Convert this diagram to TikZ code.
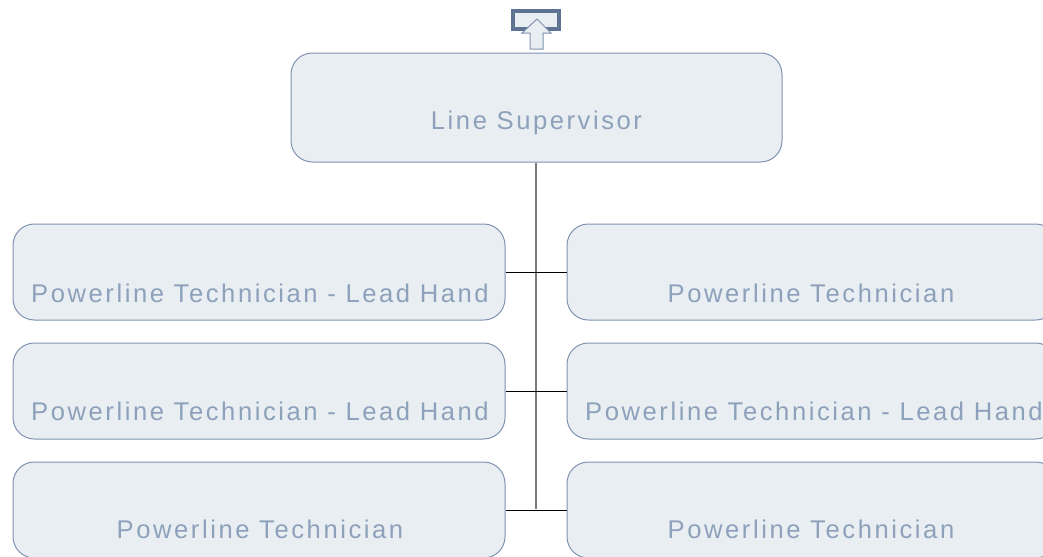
\documentclass[tikz,border=0pt]{standalone}
\usepackage{fontspec}
\setmainfont{Liberation Sans}[LetterSpace=10]
\definecolor{boxfill}{HTML}{E9EEF2}
\definecolor{boxdraw}{HTML}{7F93B0}
\definecolor{txt}{HTML}{8DA1BB}
\definecolor{icondraw}{HTML}{5D7391}
\definecolor{trunk}{HTML}{7A7A7A}
\begin{document}
\begin{tikzpicture}[x=0.75pt,y=-0.75pt,
  box/.style={draw=boxdraw,fill=boxfill,line width=0.75pt,rounded corners=16pt,minimum height=96*0.75pt,minimum width=492*0.75pt,inner sep=0pt},
  lbl/.style={anchor=base,text=txt,font=\fontsize{19.2pt}{23pt}\selectfont,inner sep=0pt},
  link/.style={black,line width=0.75pt}]
\useasboundingbox (0,0) rectangle (1043,557);
\begin{scope}
\clip (0,0) rectangle (1043,557);
% top icon
\draw[icondraw,fill=boxfill,line width=2.4pt] (513,11) rectangle (559,29);
\draw[boxdraw,fill=boxfill,line width=0.75pt] (537,19) -- (551,33) -- (543,33) -- (543,49) -- (530,49) -- (530,33) -- (522,33) -- cycle;
% boxes
\node[box,minimum height=109*0.75pt,minimum width=491*0.75pt] (sup) at (536.5,107.5) {};
\node[box] (l1) at (259,272) {};
\node[box] (l2) at (259,391) {};
\node[box] (l3) at (259,510) {};
\node[box,minimum width=490*0.75pt] (r1) at (812,272) {};
\node[box,minimum width=490*0.75pt] (r2) at (812,391) {};
\node[box,minimum width=490*0.75pt] (r3) at (812,510) {};
% labels
\node[lbl] (tsup) at (536.5,129.5) {Line Supervisor};
\node[lbl] (tl1) at (260,302.5) {Powerline Technician - Lead Hand};
\node[lbl] (tr1) at (811,302.5) {Powerline Technician};
\node[lbl] (tl2) at (260,420.5) {Powerline Technician - Lead Hand};
\node[lbl] (tr2) at (814,420.5) {Powerline Technician - Lead Hand};
\node[lbl] (tl3) at (260,538.5) {Powerline Technician};
\node[lbl] (tr3) at (811,538.5) {Powerline Technician};
% connectors
\coordinate (bot) at (536,509);
\draw[trunk,line width=1.1pt] (sup.south -| bot) -- (bot);
\draw[link] (l1.east) -- (r1.west);
\draw[link] (l2.east) -- (r2.west);
\draw[link] (l3.east) -- (r3.west);
\end{scope}
\end{tikzpicture}
\end{document}
